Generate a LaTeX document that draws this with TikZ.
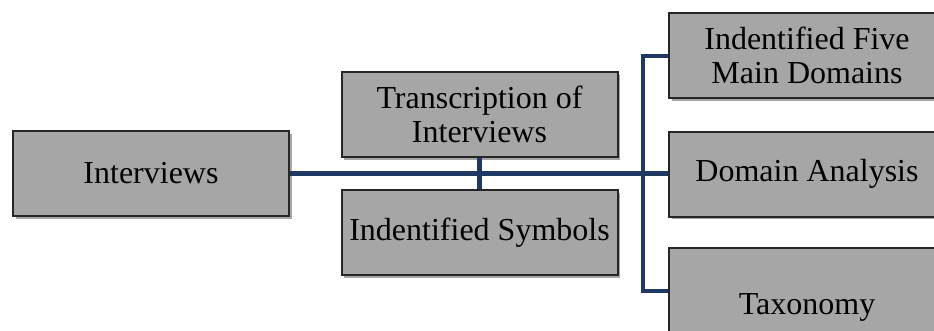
\documentclass[tikz,border=0pt]{standalone}
\usepackage{fontspec}
\setmainfont{Liberation Serif}
\usetikzlibrary{shadows}
\definecolor{boxgray}{HTML}{A6A6A6}
\definecolor{boxline}{HTML}{262626}
\definecolor{navy}{HTML}{1F3864}
\tikzset{
  box/.style={draw=boxline, line width=2pt, fill=boxgray, minimum width=276pt, minimum height=85pt,
    inner sep=0pt, align=center, font=\fontsize{32}{33.5}\selectfont,
    drop shadow={shadow xshift=2.5pt, shadow yshift=-2.5pt, opacity=0.35, fill=black}},
  conn/.style={draw=navy, line width=4.5pt}
}
\begin{document}
\begin{tikzpicture}[x=1pt,y=-1pt]
\useasboundingbox (0,0) rectangle (934,330);
\clip (0,0) rectangle (934,330);
\fill[white] (0,0) rectangle (934,330);
\node[box] (int) at (151,173.5) {Interviews};
\node[box] (tr) at (479.5,114.5) {Transcription of\\Interviews};
\node[box] (sym) at (479.5,232.5) {Indentified Symbols};
\node[box] (five) at (807,55.5) {Indentified Five\\Main Domains};
\node[box] (da) at (807,174) {Domain Analysis};
\node[box, minimum height=118pt] (tax) at (807,307) {Taxonomy};
\coordinate (bt) at (643,56);
\coordinate (bb) at (643,291);
\draw[conn] (int.east) -- (int.east -| da.west);
\draw[conn] (tr.south) -- (sym.north);
\draw[conn] (five.west |- bt) -- (bt) -- (bb) -- (tax.west |- bb);
\end{tikzpicture}
\end{document}
